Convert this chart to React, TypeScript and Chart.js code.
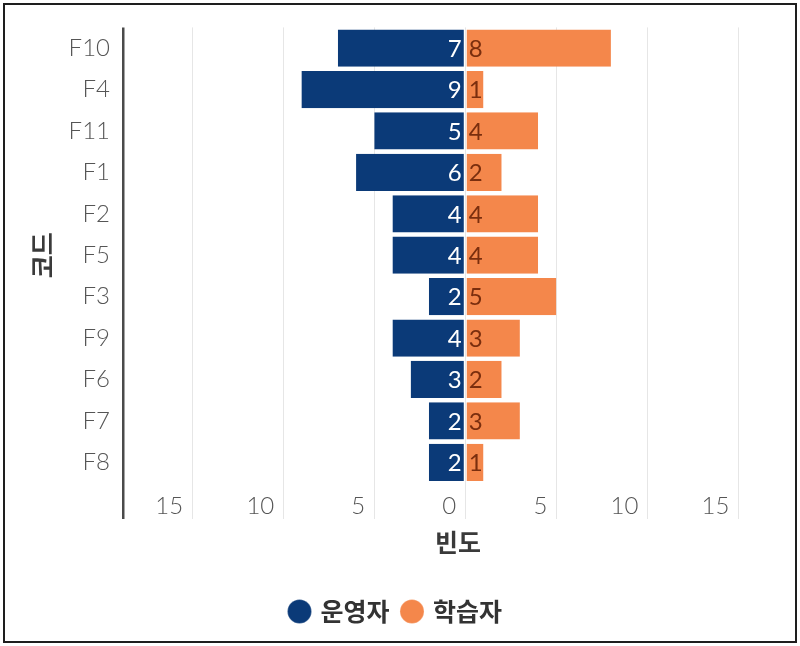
import React, { useEffect, useRef } from "react";
import { Chart, registerables } from "chart.js";

Chart.register(...registerables);

const categories = ["F10", "F4", "F11", "F1", "F2", "F5", "F3", "F9", "F6", "F7", "F8"];
const operators = [7, 9, 5, 6, 4, 4, 2, 4, 3, 2, 2];
const learners = [8, 1, 4, 2, 4, 4, 5, 3, 2, 3, 1];
const tickValues = [-15, -10, -5, 0, 5, 10, 15];
const seriesNames = ["운영자", "학습자"];

const X_MIN = -18.8;
const X_MAX = 18.0;

const LATIN = "Lato, 'Noto Sans', sans-serif";
const KR = "'Noto Sans CJK KR', 'Noto Sans', sans-serif";

const barLabels = {
  id: "barLabels",
  afterDatasetsDraw(chart: any) {
    const ctx = chart.ctx;
    ctx.save();
    ctx.font = `400 24px ${LATIN}`;
    ctx.textBaseline = "middle";
    chart.data.datasets.forEach((ds: any, di: number) => {
      const meta = chart.getDatasetMeta(di);
      meta.data.forEach((bar: any, i: number) => {
        const v = Math.abs(ds.data[i]);
        const base = bar.base;
        if (di === 0) {
          ctx.fillStyle = "#ffffff";
          ctx.textAlign = "right";
          ctx.fillText(String(v), base - 3, bar.y + 1);
        } else {
          ctx.fillStyle = "#7a2e0e";
          ctx.textAlign = "left";
          ctx.fillText(String(v), base + 3, bar.y + 1);
        }
      });
    });
    ctx.restore();
  },
};

export default function App() {
  const ref = useRef<HTMLCanvasElement | null>(null);
  useEffect(() => {
    if (!ref.current) return;
    const chart = new Chart(ref.current, {
      type: "bar",
      data: {
        labels: categories,
        datasets: [
          {
            label: seriesNames[0],
            data: operators.map((v) => -v),
            backgroundColor: "#0b3a78",
            borderColor: "#ffffff",
            borderWidth: { right: 1, left: 0, top: 0, bottom: 0 },
            borderSkipped: false,
            barPercentage: 0.9,
            categoryPercentage: 1,
          },
          {
            label: seriesNames[1],
            data: learners,
            backgroundColor: "#f4874b",
            borderColor: "#ffffff",
            borderWidth: { left: 1, right: 0, top: 0, bottom: 0 },
            borderSkipped: false,
            barPercentage: 0.9,
            categoryPercentage: 1,
          },
        ],
      },
      options: {
        indexAxis: "y",
        responsive: false,
        animation: false,
        layout: { padding: { top: 25, left: 0, right: 7, bottom: 12 } },
        scales: {
          x: {
            type: "linear",
            min: X_MIN,
            max: X_MAX,
            stacked: true,
            afterBuildTicks(scale: any) {
              scale.ticks = [{ value: X_MIN }, ...tickValues.map((v) => ({ value: v }))];
            },
            afterFit(scale: any) {
              scale.height = 102;
            },
            grid: {
              color: (c: any) => (c.tick && c.tick.value === X_MIN ? "#4a4a4a" : "#e6e6e6"),
              lineWidth: (c: any) => (c.tick && c.tick.value === X_MIN ? 2.5 : 1),
              tickLength: 36,
              drawTicks: true,
            },
            border: { display: false },
            ticks: {
              padding: -27,
              align: "end",
              labelOffset: -9,
              color: "#555555",
              font: { family: LATIN, size: 24, weight: "300" },
              callback: (v: any) => (v === X_MIN ? "" : String(Math.abs(Number(v)))),
              autoSkip: false,
              maxRotation: 0,
            },
            title: {
              display: true,
              text: "빈도",
              color: "#3a3a3a",
              font: { family: KR, size: 25, weight: "bold" },
              padding: { top: 5, bottom: 28 },
            },
          },
          y: {
            stacked: true,
            grid: { display: false, drawTicks: false },
            border: { display: false },
            afterFit(scale: any) {
              scale.width = 123;
            },
            ticks: {
              padding: 13,
              color: "#555555",
              font: { family: LATIN, size: 24, weight: "300" },
            },
            title: {
              display: true,
              text: "코드",
              color: "#3a3a3a",
              font: { family: KR, size: 25, weight: "bold" },
              padding: { top: 27, bottom: 0 },
            },
          },
        },
        plugins: {
          legend: {
            position: "bottom",
            labels: {
              usePointStyle: true,
              pointStyle: "circle",
              boxWidth: 17,
              boxHeight: 17,
              padding: 14,
              color: "#333333",
              font: { family: KR, size: 25, weight: "bold" },
            },
          },
          tooltip: { enabled: false },
        },
      },
      plugins: [barLabels],
    } as any);
    return () => chart.destroy();
  }, []);

  return (
    <div style={{ position: "absolute", left: 0, top: 0, width: 800, height: 646, background: "#fff" }}>
      <canvas ref={ref} width={800} height={646} style={{ position: "absolute", left: 0, top: 0 }} />
      <div
        style={{
          position: "absolute",
          left: 3,
          top: 3,
          width: 794,
          height: 640,
          border: "2px solid #1e1e1e",
          boxSizing: "border-box",
          pointerEvents: "none",
        }}
      />
    </div>
  );
}
